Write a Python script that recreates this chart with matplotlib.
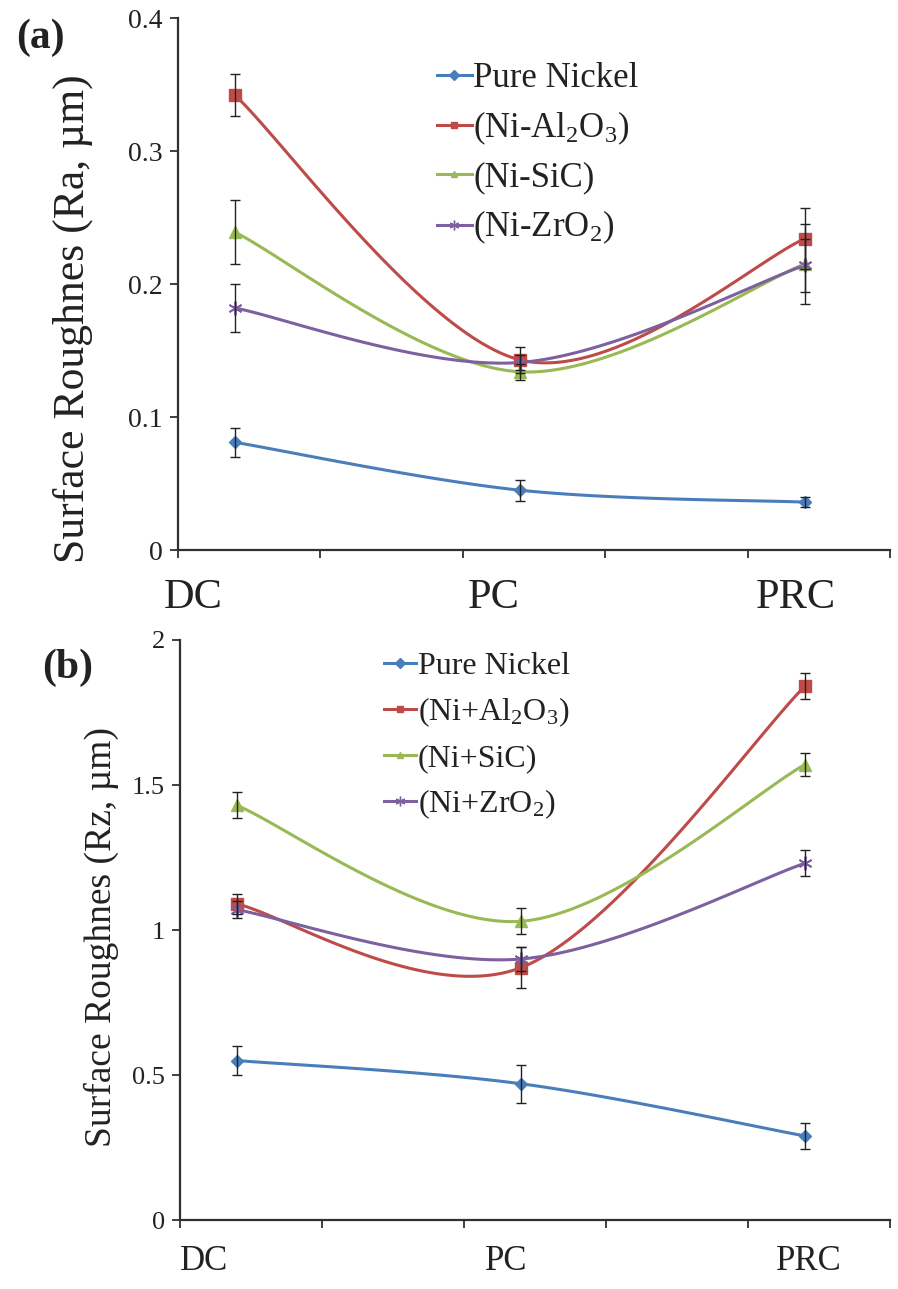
import numpy as np
import matplotlib
matplotlib.use("Agg")
import matplotlib.pyplot as plt
from matplotlib.lines import Line2D

plt.rcParams['font.family'] = ['Liberation Serif', 'DejaVu Serif']
plt.rcParams['mathtext.fontset'] = 'custom'
plt.rcParams['mathtext.rm'] = 'Liberation Serif'
plt.rcParams['mathtext.it'] = 'Liberation Serif:italic'

# ---------------- data ----------------
categories = ["DC", "PC", "PRC"]

labels_a = ["Pure Nickel", "(Ni-Al$_2$O$_3$)", "(Ni-SiC)", "(Ni-ZrO$_2$)"]
ra_pure = [0.081, 0.045, 0.036]
ra_al2o3 = [0.342, 0.143, 0.234]
ra_sic = [0.239, 0.134, 0.215]
ra_zro2 = [0.182, 0.141, 0.214]
ra_pure_err = [0.011, 0.008, 0.004]
ra_al2o3_err = [0.016, 0.010, 0.023]
ra_sic_err = [0.024, 0.006, 0.030]
ra_zro2_err = [0.018, 0.006, 0.020]

labels_b = ["Pure Nickel", "(Ni+Al$_2$O$_3$)", "(Ni+SiC)", "(Ni+ZrO$_2$)"]
rz_pure = [0.55, 0.47, 0.29]
rz_al2o3 = [1.09, 0.87, 1.84]
rz_sic = [1.43, 1.03, 1.57]
rz_zro2 = [1.07, 0.90, 1.23]
rz_pure_err = [0.05, 0.065, 0.045]
rz_al2o3_err = [0.035, 0.07, 0.045]
rz_sic_err = [0.045, 0.045, 0.04]
rz_zro2_err = [0.03, 0.04, 0.045]

yticks_a = [0, 0.1, 0.2, 0.3, 0.4]
yticklabels_a = ["0", "0.1", "0.2", "0.3", "0.4"]
yticks_b = [0, 0.5, 1, 1.5, 2]
yticklabels_b = ["0", "0.5", "1", "1.5", "2"]

# ---------------- styles ----------------
colors = ["#4A7EBB", "#BE4B48", "#98B954", "#7D60A0"]
markers = ["D", "s", "^", (6, 2, 0)]
msizes = [6, 8, 8, 10]

fig = plt.figure(figsize=(8.98, 12.89), dpi=100)
ax_a = fig.add_axes([0.1982, 0.5733, 0.793, 0.4127])
ax_b = fig.add_axes([0.2004, 0.0535, 0.7906, 0.4500])

xpos = [0.4 + 2 * i for i in range(len(categories))]


def smooth(ax, xs, ys, ylim):
    """Excel-like smoothed line (Catmull-Rom Bezier), computed in screen-proportional units."""
    bb = ax.get_position()
    sx = bb.width * 8.98 / 5.0
    sy = bb.height * 12.89 / (ylim[1] - ylim[0])
    P = np.column_stack([np.asarray(xs) * sx, np.asarray(ys) * sy])
    n = len(P)
    out = []
    t = np.linspace(0, 1, 60)
    for i in range(n - 1):
        p0 = P[i - 1] if i > 0 else P[i]
        p1, p2 = P[i], P[i + 1]
        p3 = P[i + 2] if i + 2 < n else P[i + 1]
        c1 = p1 + (p2 - p0) / 6.0
        c2 = p2 - (p3 - p1) / 6.0
        seg = ((1 - t)[:, None] ** 3) * p1 + (3 * (1 - t) ** 2 * t)[:, None] * c1 \
            + (3 * (1 - t) * t ** 2)[:, None] * c2 + (t ** 3)[:, None] * p2
        out.append(seg if i == 0 else seg[1:])
    out = np.vstack(out)
    return out[:, 0] / sx, out[:, 1] / sy


def draw(ax, series, errs, labels, ylim, yticks, yticklabels, tick_fs, leg_fs, leg_anchor, leg_spacing):
    ax.set_xlim(0, 5)
    ax.set_ylim(*ylim)
    for k, (vals, err) in enumerate(zip(series, errs)):
        xs, ys = smooth(ax, xpos, vals, ylim)
        ax.plot(xs, ys, color=colors[k], lw=2.2, zorder=2, solid_capstyle='round')
        mk = markers[k]
        if k == 3:
            ax.plot(xpos, vals, linestyle='none', marker=mk, ms=msizes[k],
                    mec=colors[k], mew=1.3, zorder=3)
        else:
            ax.plot(xpos, vals, linestyle='none', marker=mk, ms=msizes[k],
                    mfc=colors[k], mec=colors[k], zorder=3)
        ax.errorbar(xpos, vals, yerr=err, fmt='none', ecolor='#222222',
                    elinewidth=1.0, capsize=3.5, capthick=1.0, zorder=4)
    for s in ['top', 'right']:
        ax.spines[s].set_visible(False)
    for s in ['left', 'bottom']:
        ax.spines[s].set_color('#303030')
        ax.spines[s].set_linewidth(1.6)
    ax.set_xticks(range(0, 6))
    ax.set_xticklabels([])
    ax.set_yticks(yticks)
    ax.set_yticklabels(yticklabels)
    ax.tick_params(axis='both', direction='out', length=6, width=1.3, color='#303030')
    ax.tick_params(axis='y', labelsize=tick_fs, pad=5, labelcolor='#222222')
    handles = []
    for k in range(4):
        if k == 3:
            h = Line2D([], [], color=colors[k], lw=2.2, marker=markers[k], ms=7, mec=colors[k], mew=1.0)
        else:
            h = Line2D([], [], color=colors[k], lw=2.2, marker=markers[k], ms=5,
                       mfc=colors[k], mec=colors[k])
        handles.append(h)
    leg = ax.legend(handles, labels, loc='upper left', bbox_to_anchor=leg_anchor,
                    bbox_transform=fig.transFigure, frameon=False, fontsize=leg_fs,
                    handlelength=1.0, handletextpad=0.05, labelspacing=leg_spacing,
                    borderpad=0, borderaxespad=0)
    for txt in leg.get_texts():
        txt.set_color('#222222')


draw(ax_a, [ra_pure, ra_al2o3, ra_sic, ra_zro2],
     [ra_pure_err, ra_al2o3_err, ra_sic_err, ra_zro2_err],
     labels_a, (0, 0.4), yticks_a, yticklabels_a, 20, 25,
     (437 / 898, 1 - 62 / 1289), 0.42)
draw(ax_b, [rz_pure, rz_al2o3, rz_sic, rz_zro2],
     [rz_pure_err, rz_al2o3_err, rz_sic_err, rz_zro2_err],
     labels_b, (0, 2), yticks_b, yticklabels_b, 19, 23,
     (384 / 898, 1 - 652 / 1289), 0.45)

# category labels below axes
cat_x_a = [0.11, 2.22, 4.34]
cat_x_b = [0.17, 2.30, 4.43]
for i, c in enumerate(categories):
    ax_a.text(cat_x_a[i], -0.09, c, fontsize=30.5, ha='center', va='center',
              color='#222222', transform=ax_a.get_xaxis_transform())
    ax_b.text(cat_x_b[i], -0.072, c, fontsize=25, ha='center', va='center',
              color='#222222', transform=ax_b.get_xaxis_transform())

fig.text(73 / 898, 1 - 319 / 1289, "Surface Roughnes (Ra, µm)", rotation=90,
         fontsize=31.5, ha='center', va='center', color='#222222')
fig.text(101 / 898, 1 - 937 / 1289, "Surface Roughnes (Rz, µm)", rotation=90,
         fontsize=27, ha='center', va='center', color='#222222')
fig.text(40 / 898, 1 - 38 / 1289, "(a)", fontsize=30, fontweight='bold',
         ha='center', va='center', color='#222222')
fig.text(68 / 898, 1 - 668 / 1289, "(b)", fontsize=30, fontweight='bold',
         ha='center', va='center', color='#222222')

fig.savefig("out.png", dpi=100)
